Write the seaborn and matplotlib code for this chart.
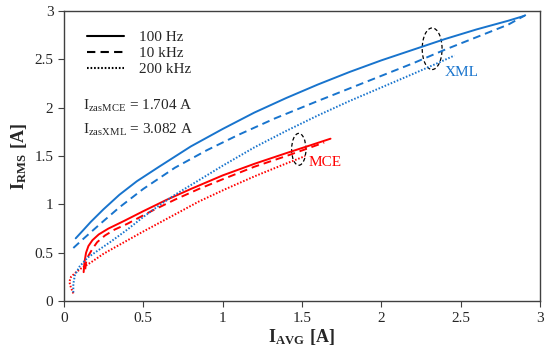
import numpy as np
import pandas as pd
import matplotlib
matplotlib.use("Agg")
import matplotlib.pyplot as plt
from matplotlib.lines import Line2D
from matplotlib.patches import Ellipse
from matplotlib.ticker import FormatStrFormatter
import seaborn as sns

# MCE curves (I_AVG, I_RMS)
mce_100_x = [0.125, 0.13, 0.14, 0.155, 0.18, 0.22, 0.28, 0.38, 0.50, 0.65, 0.80, 1.00, 1.20, 1.40, 1.55, 1.68]
mce_100_y = [0.30, 0.40, 0.50, 0.57, 0.63, 0.69, 0.75, 0.83, 0.93, 1.05, 1.16, 1.30, 1.42, 1.53, 1.61, 1.68]
mce_10k_x = [0.135, 0.14, 0.155, 0.18, 0.21, 0.26, 0.32, 0.40, 0.55, 0.70, 0.85, 1.00, 1.20, 1.40, 1.64]
mce_10k_y = [0.33, 0.40, 0.47, 0.54, 0.61, 0.68, 0.74, 0.80, 0.93, 1.05, 1.16, 1.26, 1.39, 1.50, 1.64]
mce_200k_x = [0.06, 0.045, 0.035, 0.045, 0.07, 0.11, 0.17, 0.25, 0.38, 0.50, 0.67, 0.85, 1.02, 1.20, 1.38, 1.52]
mce_200k_y = [0.08, 0.14, 0.20, 0.25, 0.29, 0.34, 0.40, 0.49, 0.61, 0.72, 0.87, 1.03, 1.16, 1.29, 1.41, 1.50]

# XML curves (I_AVG, I_RMS)
xml_100_x = [0.075, 0.12, 0.17, 0.25, 0.35, 0.46, 0.60, 0.80, 1.00, 1.20, 1.40, 1.60, 1.80, 2.00, 2.20, 2.40, 2.60, 2.80, 2.90]
xml_100_y = [0.65, 0.73, 0.82, 0.95, 1.10, 1.24, 1.39, 1.60, 1.78, 1.95, 2.10, 2.24, 2.37, 2.49, 2.60, 2.71, 2.81, 2.90, 2.95]
xml_10k_x = [0.06, 0.12, 0.23, 0.35, 0.50, 0.70, 0.90, 1.10, 1.33, 1.60, 1.80, 2.00, 2.20, 2.40, 2.60, 2.80, 2.91]
xml_10k_y = [0.55, 0.64, 0.80, 0.97, 1.16, 1.38, 1.56, 1.72, 1.89, 2.07, 2.20, 2.33, 2.46, 2.60, 2.73, 2.86, 2.96]
xml_200k_x = [0.06, 0.06, 0.07, 0.10, 0.15, 0.22, 0.30, 0.40, 0.50, 0.60, 0.70, 0.85, 1.00, 1.20, 1.40, 1.60, 1.80, 2.00, 2.20, 2.38, 2.46]
xml_200k_y = [0.09, 0.18, 0.27, 0.36, 0.45, 0.53, 0.62, 0.74, 0.87, 0.99, 1.10, 1.25, 1.40, 1.59, 1.76, 1.92, 2.07, 2.21, 2.35, 2.48, 2.54]

freqs = ["100 Hz", "10 kHz", "200 kHz"]
materials = ["MCE", "XML"]

curves = {
    ("MCE", "100 Hz"): (mce_100_x, mce_100_y),
    ("MCE", "10 kHz"): (mce_10k_x, mce_10k_y),
    ("MCE", "200 kHz"): (mce_200k_x, mce_200k_y),
    ("XML", "100 Hz"): (xml_100_x, xml_100_y),
    ("XML", "10 kHz"): (xml_10k_x, xml_10k_y),
    ("XML", "200 kHz"): (xml_200k_x, xml_200k_y),
}

rows = []
for (mat, f), (xs, ys) in curves.items():
    for i, (x, y) in enumerate(zip(xs, ys)):
        rows.append({"material": mat, "freq": f, "order": i, "avg": x, "rms": y})
df = pd.DataFrame(rows)

RED = "#FF0000"
BLUE = "#1874CD"
palette = {"MCE": RED, "XML": BLUE}
dashes = {"100 Hz": None, "10 kHz": (4, 2.5), "200 kHz": (0.8, 0.9)}

sns.set_style("ticks")
plt.rcParams["font.family"] = ["Liberation Serif", "DejaVu Serif"]
plt.rcParams["mathtext.fontset"] = "custom"
plt.rcParams["mathtext.rm"] = "Liberation Serif"
plt.rcParams["mathtext.bf"] = "Liberation Serif:bold"

fig, ax = plt.subplots(figsize=(5.5, 3.56), dpi=100)
fig.subplots_adjust(left=0.116, right=0.982, bottom=0.154, top=0.969)

for (mat, f), grp in df.groupby(["material", "freq"]):
    sns.lineplot(data=grp, x="avg", y="rms", sort=False, estimator=None,
                 color=palette[mat], lw=1.4, ax=ax)
    if dashes[f] is not None:
        ax.lines[-1].set_dashes(dashes[f])
    ax.lines[-1].set_solid_joinstyle("round")

ax.set_xlim(0, 3)
ax.set_ylim(0, 3)
ax.set_xticks(np.arange(0, 3.01, 0.5))
ax.set_yticks(np.arange(0, 3.01, 0.5))
ax.xaxis.set_major_formatter(FormatStrFormatter("%g"))
ax.yaxis.set_major_formatter(FormatStrFormatter("%g"))
ax.tick_params(labelsize=11, length=4, width=0.8, color="#404040")
for s in ax.spines.values():
    s.set_color("#404040")
    s.set_linewidth(1.0)

ax.set_xlabel(r"$\mathbf{I_{AVG}\ [A]}$", fontsize=13, labelpad=2)
ax.set_ylabel(r"$\mathbf{I_{RMS}\ [A]}$", fontsize=13, labelpad=4)

# highlight ellipses and curve labels
ax.add_patch(Ellipse((1.48, 1.57), 0.09, 0.33, fill=False, ls=(0, (3, 2)), lw=0.9, ec="black"))
ax.add_patch(Ellipse((2.32, 2.61), 0.125, 0.43, fill=False, ls=(0, (3, 2)), lw=0.9, ec="black"))
ax.text(1.54, 1.43, "MCE", color=RED, fontsize=11, va="center")
ax.text(2.40, 2.36, "XML", color=BLUE, fontsize=11, va="center")

# legend (line styles only)
handles = []
for f in freqs:
    h = Line2D([], [], color="black", lw=1.5)
    if dashes[f] is not None:
        h.set_dashes(dashes[f])
    handles.append(h)
ax.legend(handles, freqs, loc="upper left", frameon=False, fontsize=11,
          handlelength=2.4, handletextpad=1.0, labelspacing=0.15,
          bbox_to_anchor=(0.02, 0.98))

ax.text(0.04, 0.66, r"$\mathrm{I_{zasMCE}}$ = 1.704 A", transform=ax.transAxes, fontsize=11)
ax.text(0.04, 0.575, r"$\mathrm{I_{zasXML}}$ = 3.082 A", transform=ax.transAxes, fontsize=11)

fig.savefig("out.png", dpi=100)
